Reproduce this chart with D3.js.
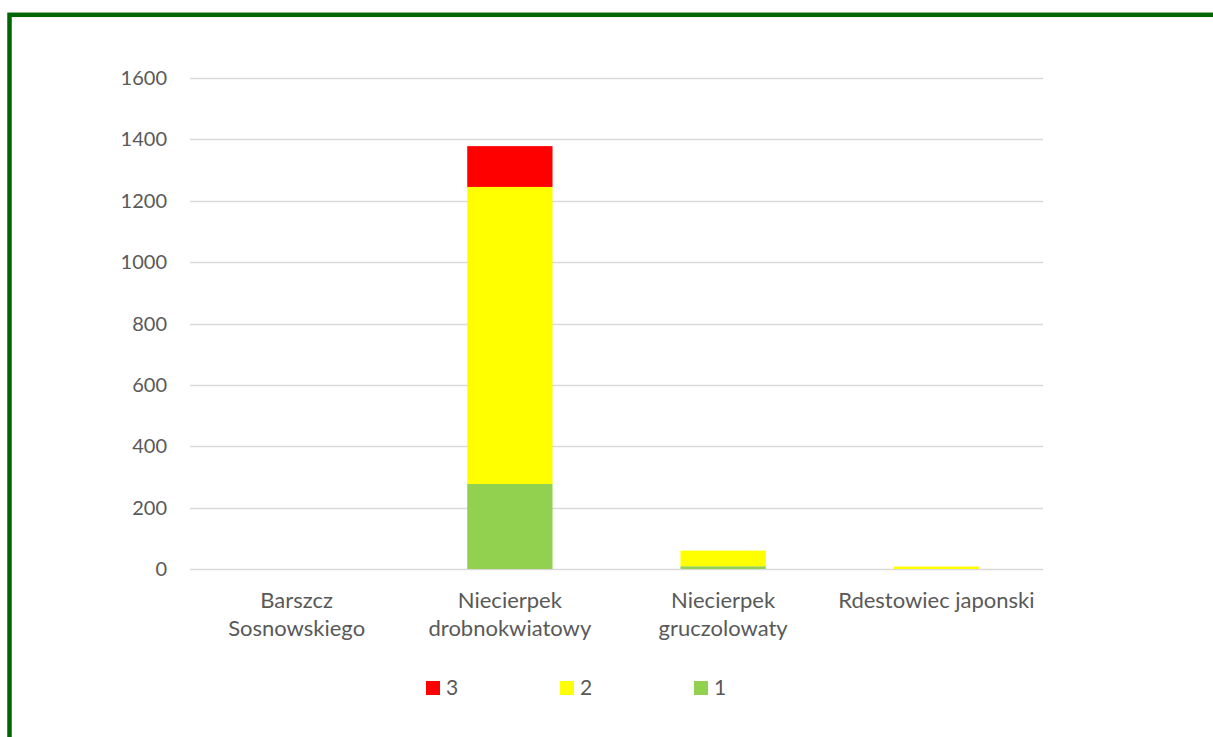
<!DOCTYPE html>
<html>
<head>
<meta charset="utf-8">
<script src="https://cdn.jsdelivr.net/npm/d3@7"></script>
<style>
  html, body { margin: 0; padding: 0; background: #fff; }
  svg { display: block; }
  text { font-family: Lato, "Open Sans", sans-serif; fill: #595959; }
</style>
</head>
<body>
<svg id="chart" width="1213" height="737"></svg>
<script>
// Species and counts per class (1, 2, 3)
const categories = [
  ["Barszcz", "Sosnowskiego"],
  ["Niecierpek", "drobnokwiatowy"],
  ["Niecierpek", "gruczolowaty"],
  ["Rdestowiec japonski"]
];
const class1 = [0, 277, 9, 0];
const class2 = [0, 968, 51, 8];
const class3 = [0, 133, 0, 0];
const yTicks = [0, 200, 400, 600, 800, 1000, 1200, 1400, 1600];
const seriesNames = ["1", "2", "3"];
const legendOrder = ["3", "2", "1"];
const colors = { "1": "#92D050", "2": "#FFFF00", "3": "#FF0000" };

const svg = d3.select("#chart");

// Dark green frame
svg.append("rect")
  .attr("x", 9.5).attr("y", 14.8)
  .attr("width", 1300).attr("height", 800)
  .attr("fill", "none")
  .attr("stroke", "#006600")
  .attr("stroke-width", 4.5);

const plot = { left: 190, right: 1043, top: 78, bottom: 569 };

const keys = categories.map((c, i) => i);
const x = d3.scaleBand().domain(keys).range([plot.left, plot.right]).paddingInner(0.6).paddingOuter(0.3);
const xCat = d3.scaleBand().domain(keys).range([plot.left, plot.right]);
const y = d3.scaleLinear().domain([0, 1600]).range([plot.bottom, plot.top]);

// Gridlines
svg.append("g").selectAll("line").data(yTicks).join("line")
  .attr("x1", plot.left).attr("x2", plot.right)
  .attr("y1", d => Math.round(y(d)) + 0.5).attr("y2", d => Math.round(y(d)) + 0.5)
  .attr("stroke", "#D9D9D9").attr("stroke-width", 1.3);

// Y axis labels
svg.append("g").selectAll("text").data(yTicks).join("text")
  .attr("x", 167).attr("y", d => y(d))
  .attr("dy", "0.35em")
  .attr("text-anchor", "end")
  .attr("font-size", 20)
  .text(d => d);

// Stacked bars
const rows = keys.map(i => ({ i, "1": class1[i], "2": class2[i], "3": class3[i] }));
const stack = d3.stack().keys(seriesNames)(rows);
svg.append("g").selectAll("g").data(stack).join("g")
  .attr("fill", s => colors[s.key])
  .selectAll("rect").data(s => s).join("rect")
  .attr("x", d => x(d.data.i))
  .attr("width", x.bandwidth())
  .attr("y", d => y(d[1]))
  .attr("height", d => y(d[0]) - y(d[1]));

// Category labels
const catG = svg.append("g");
categories.forEach((lines, i) => {
  const t = catG.append("text")
    .attr("x", xCat(i) + xCat.bandwidth() / 2)
    .attr("y", 608)
    .attr("text-anchor", "middle")
    .attr("font-size", 22);
  lines.forEach((ln, j) => {
    t.append("tspan")
      .attr("x", xCat(i) + xCat.bandwidth() / 2)
      .attr("dy", j === 0 ? 0 : 28)
      .text(ln);
  });
});

// Legend
const legendX = d3.scalePoint().domain(legendOrder).range([426, 694]);
const lg = svg.append("g").selectAll("g").data(legendOrder).join("g")
  .attr("transform", d => `translate(${legendX(d)},681)`);
lg.append("rect").attr("width", 14).attr("height", 14).attr("fill", d => colors[d]);
lg.append("text").attr("x", 20).attr("y", 7).attr("dy", "0.35em")
  .attr("font-size", 21).text(d => d);
</script>
</body>
</html>
